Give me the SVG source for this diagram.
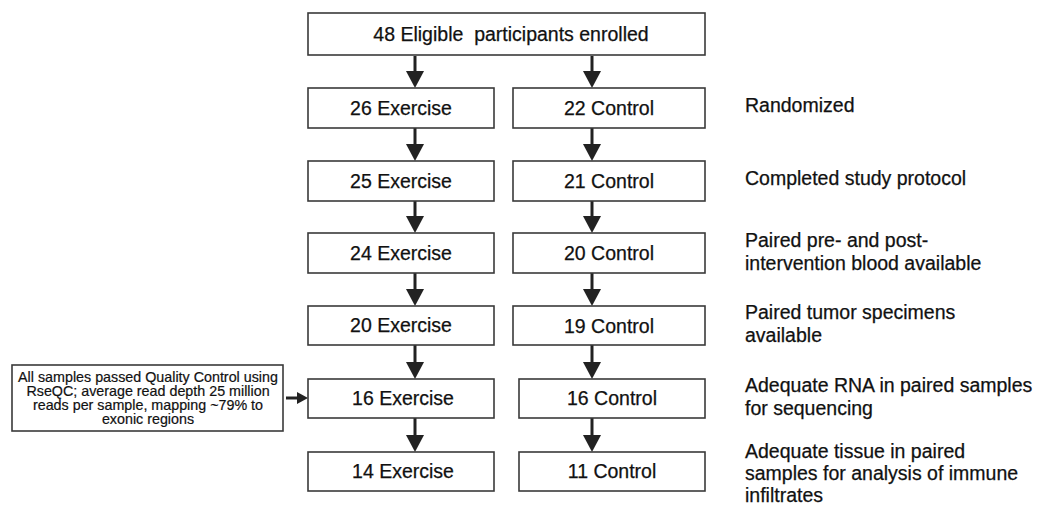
<svg xmlns="http://www.w3.org/2000/svg" width="1038" height="510" viewBox="0 0 1038 510">
<style>
.box{fill:#fff;stroke:#3a3a3a;stroke-width:1.6}
.t{font-family:"Liberation Sans",Arial,sans-serif;font-size:19.5px;fill:#111;stroke:#111;stroke-width:0.25;text-anchor:middle}
.lab{font-family:"Liberation Sans",Arial,sans-serif;font-size:19.5px;fill:#111;stroke:#111;stroke-width:0.25}
.small{font-family:"Liberation Sans",Arial,sans-serif;font-size:14.3px;fill:#111;stroke:#111;stroke-width:0.2;text-anchor:middle}
.ar{stroke:#222;stroke-width:3;fill:none}
.hd{fill:#222}
</style>
<rect width="1038" height="510" fill="#fff"/>
<g id="connectors">
<line class="ar" x1="415" y1="56" x2="415" y2="72"/><polygon class="hd" points="406,71 424,71 415,88"/>
<line class="ar" x1="592" y1="56" x2="592" y2="72"/><polygon class="hd" points="583,71 601,71 592,88"/>
<line class="ar" x1="415" y1="128" x2="415" y2="145"/><polygon class="hd" points="406,144 424,144 415,161"/>
<line class="ar" x1="592" y1="128" x2="592" y2="145"/><polygon class="hd" points="583,144 601,144 592,161"/>
<line class="ar" x1="415" y1="201" x2="415" y2="217"/><polygon class="hd" points="406,216 424,216 415,233"/>
<line class="ar" x1="592" y1="201" x2="592" y2="217"/><polygon class="hd" points="583,216 601,216 592,233"/>
<line class="ar" x1="415" y1="273" x2="415" y2="290"/><polygon class="hd" points="406,289 424,289 415,306"/>
<line class="ar" x1="592" y1="273" x2="592" y2="290"/><polygon class="hd" points="583,289 601,289 592,306"/>
<line class="ar" x1="415" y1="345" x2="415" y2="363"/><polygon class="hd" points="406,362 424,362 415,379"/>
<line class="ar" x1="592" y1="345" x2="592" y2="363"/><polygon class="hd" points="583,362 601,362 592,379"/>
<line class="ar" x1="415" y1="418" x2="415" y2="436"/><polygon class="hd" points="406,435 424,435 415,452"/>
<line class="ar" x1="592" y1="418" x2="592" y2="436"/><polygon class="hd" points="583,435 601,435 592,452"/>
<line class="ar" x1="286" y1="398" x2="298" y2="398"/><polygon class="hd" points="297,392 297,404 308,398"/>
</g>
<g id="enrolled"><rect class="box" x="308" y="13" width="397" height="42"/><text class="t" x="511" y="41" xml:space="preserve">48 Eligible  participants enrolled</text></g>
<g id="ex26"><rect class="box" x="308" y="88" width="186" height="40"/><text class="t" x="401" y="115">26 Exercise</text></g>
<g id="co22"><rect class="box" x="513" y="88" width="192" height="40"/><text class="t" x="609" y="115">22 Control</text></g>
<g id="ex25"><rect class="box" x="308" y="161" width="186" height="40"/><text class="t" x="401" y="188">25 Exercise</text></g>
<g id="co21"><rect class="box" x="513" y="161" width="192" height="40"/><text class="t" x="609" y="188">21 Control</text></g>
<g id="ex24"><rect class="box" x="308" y="233" width="186" height="40"/><text class="t" x="401" y="260">24 Exercise</text></g>
<g id="co20"><rect class="box" x="513" y="233" width="192" height="40"/><text class="t" x="609" y="260">20 Control</text></g>
<g id="ex20"><rect class="box" x="308" y="306" width="186" height="39"/><text class="t" x="401" y="332">20 Exercise</text></g>
<g id="co19"><rect class="box" x="513" y="306" width="192" height="39"/><text class="t" x="609" y="333">19 Control</text></g>
<g id="ex16"><rect class="box" x="308" y="379" width="186" height="39"/><text class="t" x="403" y="405">16 Exercise</text></g>
<g id="co16"><rect class="box" x="519" y="379" width="186" height="39"/><text class="t" x="612" y="405">16 Control</text></g>
<g id="ex14"><rect class="box" x="308" y="452" width="186" height="39"/><text class="t" x="403" y="478">14 Exercise</text></g>
<g id="co11"><rect class="box" x="519" y="452" width="186" height="39"/><text class="t" x="612" y="478">11 Control</text></g>
<g id="qc"><rect class="box" x="12" y="365" width="271" height="66"/>
<text class="small" x="148" y="382">All samples passed Quality Control using</text>
<text class="small" x="148" y="396">RseQC; average read depth 25 million</text>
<text class="small" x="148" y="410">reads per sample, mapping ~79% to</text>
<text class="small" x="148" y="424">exonic regions</text></g>
<g id="labels">
<text class="lab" x="745" y="112">Randomized</text>
<text class="lab" x="745" y="185">Completed study protocol</text>
<text class="lab" x="745" y="247">Paired pre- and post-</text>
<text class="lab" x="745" y="270">intervention blood available</text>
<text class="lab" x="745" y="319">Paired tumor specimens</text>
<text class="lab" x="745" y="342">available</text>
<text class="lab" x="745" y="392">Adequate RNA in paired samples</text>
<text class="lab" x="745" y="415">for sequencing</text>
<text class="lab" x="745" y="458">Adequate tissue in paired</text>
<text class="lab" x="745" y="480">samples for analysis of immune</text>
<text class="lab" x="745" y="502">infiltrates</text>
</g>
</svg>
